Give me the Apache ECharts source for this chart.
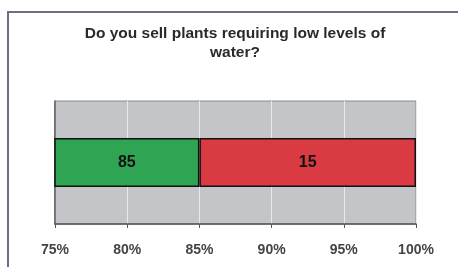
<!doctype html>
<html>
<head>
<meta charset="utf-8">
<title>Low water plants</title>
<script src="https://cdn.jsdelivr.net/npm/echarts@6/dist/echarts.min.js"></script>
<style>
	html, body { margin: 0; padding: 0; background: #fff; }
	#chart { width: 458px; height: 267px; }
</style>
</head>
<body>
	<div id="chart"></div>
	<script type="text/javascript">
		// data
		var categories = ['Sell'];
		var yesValues = [85];
		var noValues = [15];
		var xTicks = [75, 80, 85, 90, 95, 100];

		var chart = echarts.init(document.getElementById('chart'));
		var option = {
			animation: false,
			backgroundColor: '#fff',
			title: {
				text: 'Do you sell plants requiring low levels of\nwater?',
				left: 230,
				top: 19,
				textAlign: 'center',
				textStyle: {
					fontFamily: 'Liberation Sans',
					fontSize: 15.5,
					fontWeight: 'bold',
					color: '#2a2a2a',
					lineHeight: 19
				}
			},
			graphic: [{
				type: 'rect',
				shape: { x: 8, y: 12, width: 470, height: 270 },
				style: { fill: 'none', stroke: '#6b6f88', lineWidth: 2 },
				z: -1
			}],
			grid: {
				left: 55,
				right: 42,
				top: 101,
				bottom: 43,
				show: true,
				backgroundColor: '#c3c5c8',
				borderColor: '#8a8c90',
				borderWidth: 1
			},
			xAxis: {
				type: 'value',
				min: xTicks[0],
				max: xTicks[xTicks.length - 1],
				interval: 5,
				axisLine: { show: true, lineStyle: { color: '#555', width: 1.5 } },
				axisTick: { show: true, length: 4, lineStyle: { color: '#555' } },
				splitLine: { show: true, lineStyle: { color: '#e8e9ea', width: 1 } },
				axisLabel: {
					formatter: '{value}%',
					margin: 19,
					fontFamily: 'Liberation Sans',
					fontSize: 14,
					fontWeight: 'bold',
					color: '#444'
				}
			},
			yAxis: {
				type: 'category',
				data: categories,
				axisLine: { show: true, lineStyle: { color: '#555', width: 1.5 } },
				axisTick: { show: false },
				axisLabel: { show: false }
			},
			series: [{
				name: 'Yes',
				type: 'bar',
				stack: 'total',
				clip: true,
				barWidth: 49,
				data: yesValues,
				itemStyle: { color: '#2fa453', borderColor: '#111', borderWidth: 1.5 },
				label: {
					show: true,
					position: 'inside',
					fontFamily: 'Liberation Sans',
					fontWeight: 'bold',
					fontSize: 16,
					color: '#111'
				}
			}, {
				name: 'No',
				type: 'bar',
				stack: 'total',
				clip: true,
				barWidth: 49,
				data: noValues,
				itemStyle: { color: '#da3a42', borderColor: '#111', borderWidth: 1.5 },
				label: {
					show: true,
					position: 'inside',
					fontFamily: 'Liberation Sans',
					fontWeight: 'bold',
					fontSize: 16,
					color: '#111'
				}
			}]
		};
		chart.setOption(option);
	</script>
</body>
</html>
